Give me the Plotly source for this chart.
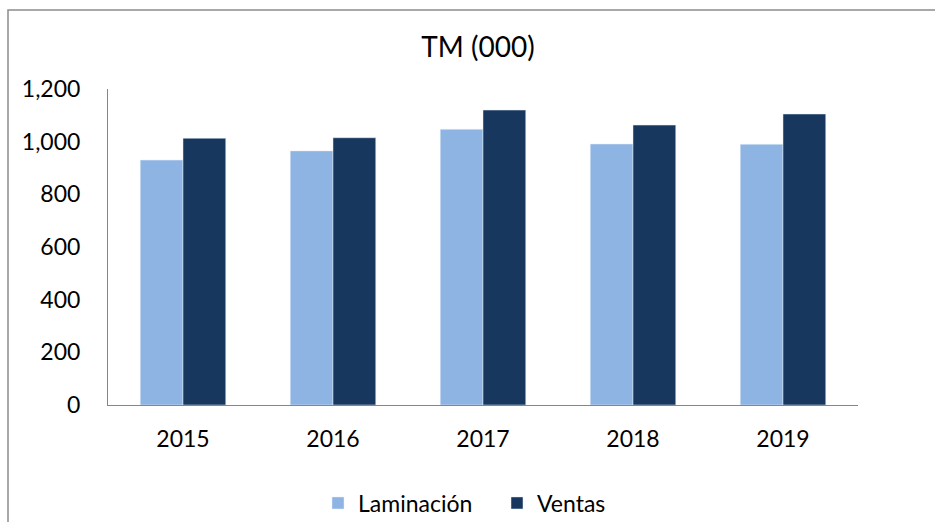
import plotly.graph_objects as go

years = ["2015", "2016", "2017", "2018", "2019"]
laminacion = [930, 965, 1047, 991, 990]
ventas = [1013, 1015, 1120, 1063, 1105]
y_ticks = [0, 200, 400, 600, 800, 1000, 1200]
y_tick_labels = ["0", "200", "400", "600", "800", "1,000", "1,200"]

FONT = "Lato, Carlito, Liberation Sans, Arial, sans-serif"

fig = go.Figure()
fig.add_trace(go.Bar(name="Laminación", x=years, y=laminacion, marker_color="#8EB4E3"))
fig.add_trace(go.Bar(name="Ventas", x=years, y=ventas, marker_color="#17375E"))

fig.update_layout(
    width=935, height=522,
    margin=dict(l=108, r=77, t=89, b=117),
    paper_bgcolor="white", plot_bgcolor="white",
    barmode="group", bargap=0.43, bargroupgap=0,
    font=dict(family=FONT, size=23, color="black"),
    title=dict(text="TM (000)", x=478/935, xanchor="center", y=1-47/522, yanchor="middle",
               font=dict(size=28, family=FONT)),
    showlegend=True,
    legend=dict(orientation="h", xref="container", yref="container",
                x=318/935, xanchor="left", y=1-503/522, yanchor="middle",
                entrywidth=134, entrywidthmode="pixels",
                bgcolor="rgba(0,0,0,0)", font=dict(size=23), traceorder="normal"),
    xaxis=dict(showline=True, linecolor="#868686", linewidth=1, ticks="", showgrid=False,
               ticklabelstandoff=13, tickfont=dict(size=23)),
    yaxis=dict(range=[0, 1200], tickvals=y_ticks, ticktext=y_tick_labels, showline=True,
               linecolor="#868686", linewidth=1, ticks="", showgrid=False, zeroline=False,
               ticklabelstandoff=22, tickfont=dict(size=23)),
    shapes=[dict(type="rect", xref="paper", yref="paper",
                 x0=(8-108)/750, x1=(940-108)/750, y0=(405-530)/316, y1=(405-10)/316,
                 line=dict(color="#8C8C8C", width=1.5), fillcolor="rgba(0,0,0,0)", layer="below")],
)

fig.write_html("out.html", config={"displayModeBar": False},
               post_script="document.body.style.margin='0';")
